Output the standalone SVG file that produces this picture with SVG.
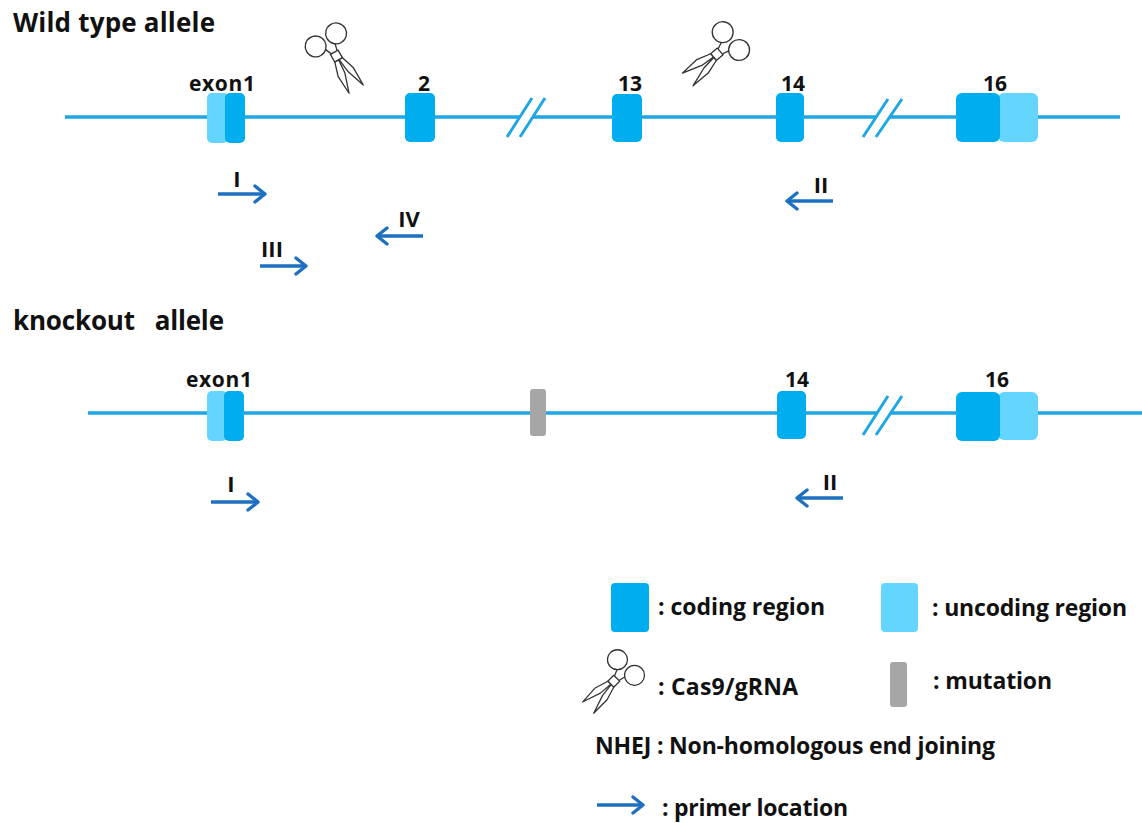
<svg xmlns="http://www.w3.org/2000/svg" xmlns:xlink="http://www.w3.org/1999/xlink" width="1142" height="823" viewBox="0 0 1142 823">
<style>
text{font-family:"Open Sans","Liberation Sans",sans-serif;font-weight:700;fill:#111;}
.title{font-size:26px;}
.lab{font-size:21px;text-anchor:middle;}
.pl{font-size:22px;text-anchor:middle;}
.leg{font-size:23px;}
.dna{stroke:#1ea7e3;stroke-width:3.5;fill:none;}
.brk{stroke:#1ea7e3;stroke-width:3;fill:none;}
.cod{fill:#00adef;}
.unc{fill:#64d5ff;}
.mut{fill:#a6a6a6;}
.pr{stroke:#1d70c0;stroke-width:3.4;fill:none;marker-end:url(#ah);}
</style>
<defs>
<marker id="ah" viewBox="-13 -10 15 20" refX="0" refY="0" markerWidth="15" markerHeight="20" markerUnits="userSpaceOnUse" orient="auto">
<path d="M-10,-8 L0,0 L-10,8" fill="none" stroke="#1d70c0" stroke-width="3.4" stroke-linecap="round" stroke-linejoin="round"/>
</marker>
<g id="sc" fill="#fff" stroke="#333" stroke-width="1.2" stroke-linejoin="round">
<circle cx="-12" cy="-18" r="9.5"/>
<circle cx="10" cy="-19" r="9.5"/>
<path d="M-5.6,-11 L-3,-5 M4.5,-11.3 L3,-5" fill="none"/>
<rect x="-4" y="-5" width="8" height="8"/>
<path d="M-4,3 L0,3 L-1,16 L-7,34 L-8,16 Z"/>
<path d="M0.5,3 L4,3 L8,16 L8,34 L2,16 Z"/>
</g>
</defs>
<rect width="1142" height="823" fill="#fff"/>

<g id="wild-type-allele">
<text class="title" x="13" y="32" textLength="202">Wild type allele</text>
<g id="wt-backbone">
<path class="dna" d="M65,117 H519 M533,117 H876 M889,117 H1120"/>
<path class="brk" d="M507,137 L532,98 M520,137 L545,98 M863,137 L888,99 M876,137 L902,99"/>
</g>
<g id="wt-exon1"><rect class="unc" x="207" y="93" width="21" height="50" rx="5"/><rect class="cod" x="225" y="93" width="20" height="50" rx="5"/><text class="lab" x="222" y="91" textLength="66">exon1</text></g>
<g id="wt-exon2"><rect class="cod" x="405" y="93" width="30" height="49" rx="5"/><text class="lab" x="424" y="91">2</text></g>
<g id="wt-exon13"><rect class="cod" x="612" y="94" width="30" height="48" rx="5"/><text class="lab" x="630" y="91">13</text></g>
<g id="wt-exon14"><rect class="cod" x="776" y="93" width="28" height="49" rx="5"/><text class="lab" x="793" y="91">14</text></g>
<g id="wt-exon16"><rect class="unc" x="998" y="93" width="40" height="49" rx="6"/><rect class="cod" x="956" y="93" width="44" height="49" rx="6"/><text class="lab" x="995" y="91">16</text></g>
<g id="wt-cas9-1"><use xlink:href="#sc" transform="translate(337,57) rotate(-30) scale(1.1)"/></g>
<g id="wt-cas9-2"><use xlink:href="#sc" transform="translate(716,55) rotate(50) scale(1.1)"/></g>
</g>

<g id="knockout-allele">
<text class="title" x="13" y="330" textLength="211" xml:space="preserve">knockout   allele</text>
<g id="ko-backbone">
<path class="dna" d="M88,413 H877 M890,413 H1142"/>
<path class="brk" d="M863,435 L888,396 M876,435 L902,396"/>
</g>
<g id="ko-exon1"><rect class="unc" x="207" y="391" width="20" height="50" rx="5"/><rect class="cod" x="224" y="391" width="20" height="50" rx="5"/><text class="lab" x="219" y="387" textLength="66">exon1</text></g>
<g id="ko-mutation"><rect class="mut" x="530" y="389" width="16" height="47" rx="3"/></g>
<g id="ko-exon14"><rect class="cod" x="777" y="391" width="29" height="48" rx="5"/><text class="lab" x="797" y="387">14</text></g>
<g id="ko-exon16"><rect class="unc" x="998" y="392" width="40" height="48" rx="6"/><rect class="cod" x="956" y="392" width="44" height="49" rx="6"/><text class="lab" x="997" y="387">16</text></g>
</g>

<g id="primers">
<path class="pr" d="M218,194 H265"/>
<path class="pr" d="M423,236 H377"/>
<path class="pr" d="M260,266 H306"/>
<path class="pr" d="M833,201 H787"/>
<path class="pr" d="M211,502 H258"/>
<path class="pr" d="M843,498 H797"/>
<text class="pl" x="237" y="187">I</text>
<text class="pl" x="409" y="227">IV</text>
<text class="pl" x="272" y="257">III</text>
<text class="pl" x="821" y="193">II</text>
<text class="pl" x="231" y="492">I</text>
<text class="pl" x="830" y="490">II</text>
</g>

<g id="legend">
<g id="leg-coding"><rect class="cod" x="611" y="583" width="38" height="49" rx="4"/><text class="leg" x="658" y="615" textLength="167">: coding region</text></g>
<g id="leg-uncoding"><rect class="unc" x="881" y="583" width="37" height="49" rx="4"/><text class="leg" x="932" y="616" textLength="195">: uncoding region</text></g>
<g id="leg-cas9"><use xlink:href="#sc" transform="translate(613,682) rotate(45) scale(1.05)"/><text class="leg" x="658" y="695" textLength="140">: Cas9/gRNA</text></g>
<g id="leg-mutation"><rect class="mut" x="890" y="662" width="17" height="45" rx="3"/><text class="leg" x="933" y="689" textLength="119">: mutation</text></g>
<g id="leg-nhej"><text class="leg" x="595" y="754" textLength="400">NHEJ : Non-homologous end joining</text></g>
<g id="leg-primer"><path class="pr" d="M597,805 H643"/><text class="leg" x="662" y="816" textLength="186">: primer location</text></g>
</g>
</svg>
